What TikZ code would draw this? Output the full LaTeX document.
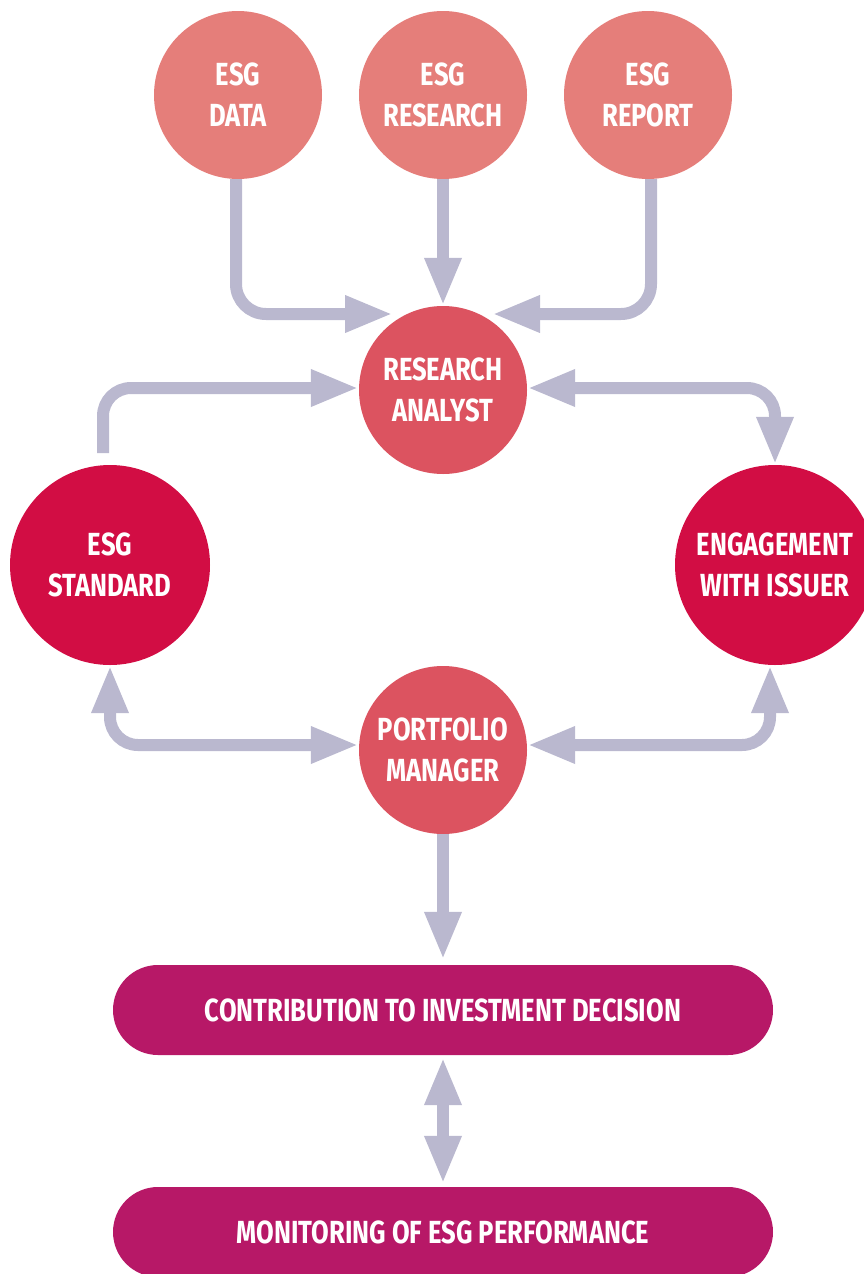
\documentclass[tikz,border=0pt]{standalone}
\usepackage{fontspec}
\newfontfamily\dfont[FakeStretch=0.8]{Fira Sans}
\usetikzlibrary{arrows.meta,calc}
\definecolor{cone}{HTML}{E57E7A}
\definecolor{ctwo}{HTML}{DC5360}
\definecolor{cthree}{HTML}{D20D44}
\definecolor{cbox}{HTML}{B71867}
\definecolor{carr}{HTML}{BAB8CF}
\tikzset{
  lbl/.style={text=white,align=center,font=\dfont\bfseries\fontsize{32}{41}\selectfont},
  circ/.style={lbl,circle,inner sep=0pt,minimum size=168pt},
  cA/.style={circ,fill=cone},
  cB/.style={circ,fill=ctwo},
  cC/.style={circ,fill=cthree,minimum size=200pt},
  pill/.style={lbl,rectangle,rounded corners=45pt,fill=cbox,minimum width=660pt,minimum height=90pt},
  arr/.style={draw=carr,line width=12pt,-{Triangle[length=48pt,width=34pt]}},
  darr/.style={draw=carr,line width=12pt,{Triangle[length=48pt,width=34pt]}-{Triangle[length=48pt,width=34pt]}},
}
\begin{document}
\begin{tikzpicture}[x=1pt,y=-1pt]
\useasboundingbox (0,0) rectangle (864,1274);
\clip (0,0) rectangle (864,1274);
\node[cA] (data) at (238,95) {ESG\\DATA};
\node[cA] (res) at (443,95) {ESG\\RESEARCH};
\node[cA] (rep) at (648,95) {ESG\\REPORT};
\node[cB] (an) at (443,390) {RESEARCH\\ANALYST};
\node[cB] (pm) at (443,750) {PORTFOLIO\\MANAGER};
\node[cC] (std) at (110,565) {ESG\\STANDARD};
\node[cC] (eng) at (775,565) {ENGAGEMENT\\WITH ISSUER};
\node[pill] (cid) at (443,1010) {CONTRIBUTION TO INVESTMENT DECISION};
\node[pill] (mon) at (443,1232) {MONITORING OF ESG PERFORMANCE};
\draw[arr,rounded corners=30pt] ([xshift=-2pt]data.south) |- ([shift={(-50,-76)}]an.center);
\draw[arr] (res.south) -- (an.north);
\draw[arr,rounded corners=30pt] ([xshift=3pt]rep.south) |- ([shift={(49,-76)}]an.center);
\draw[arr,rounded corners=28pt] ([shift={(-7,-112)}]std.center) |- ([yshift=2pt]an.west);
\draw[darr,rounded corners=28pt] ([yshift=2pt]an.east) -| (eng.north);
\draw[darr,rounded corners=28pt] (std.south) |- ([yshift=5pt]pm.west);
\draw[darr,rounded corners=28pt] ([yshift=5pt]pm.east) -| ([xshift=-5pt]eng.south);
\draw[arr] (pm.south) -- ([yshift=5pt]cid.north);
\draw[darr] ([yshift=-2pt]cid.south) -- ([yshift=3pt]mon.north);
\end{tikzpicture}
\end{document}
